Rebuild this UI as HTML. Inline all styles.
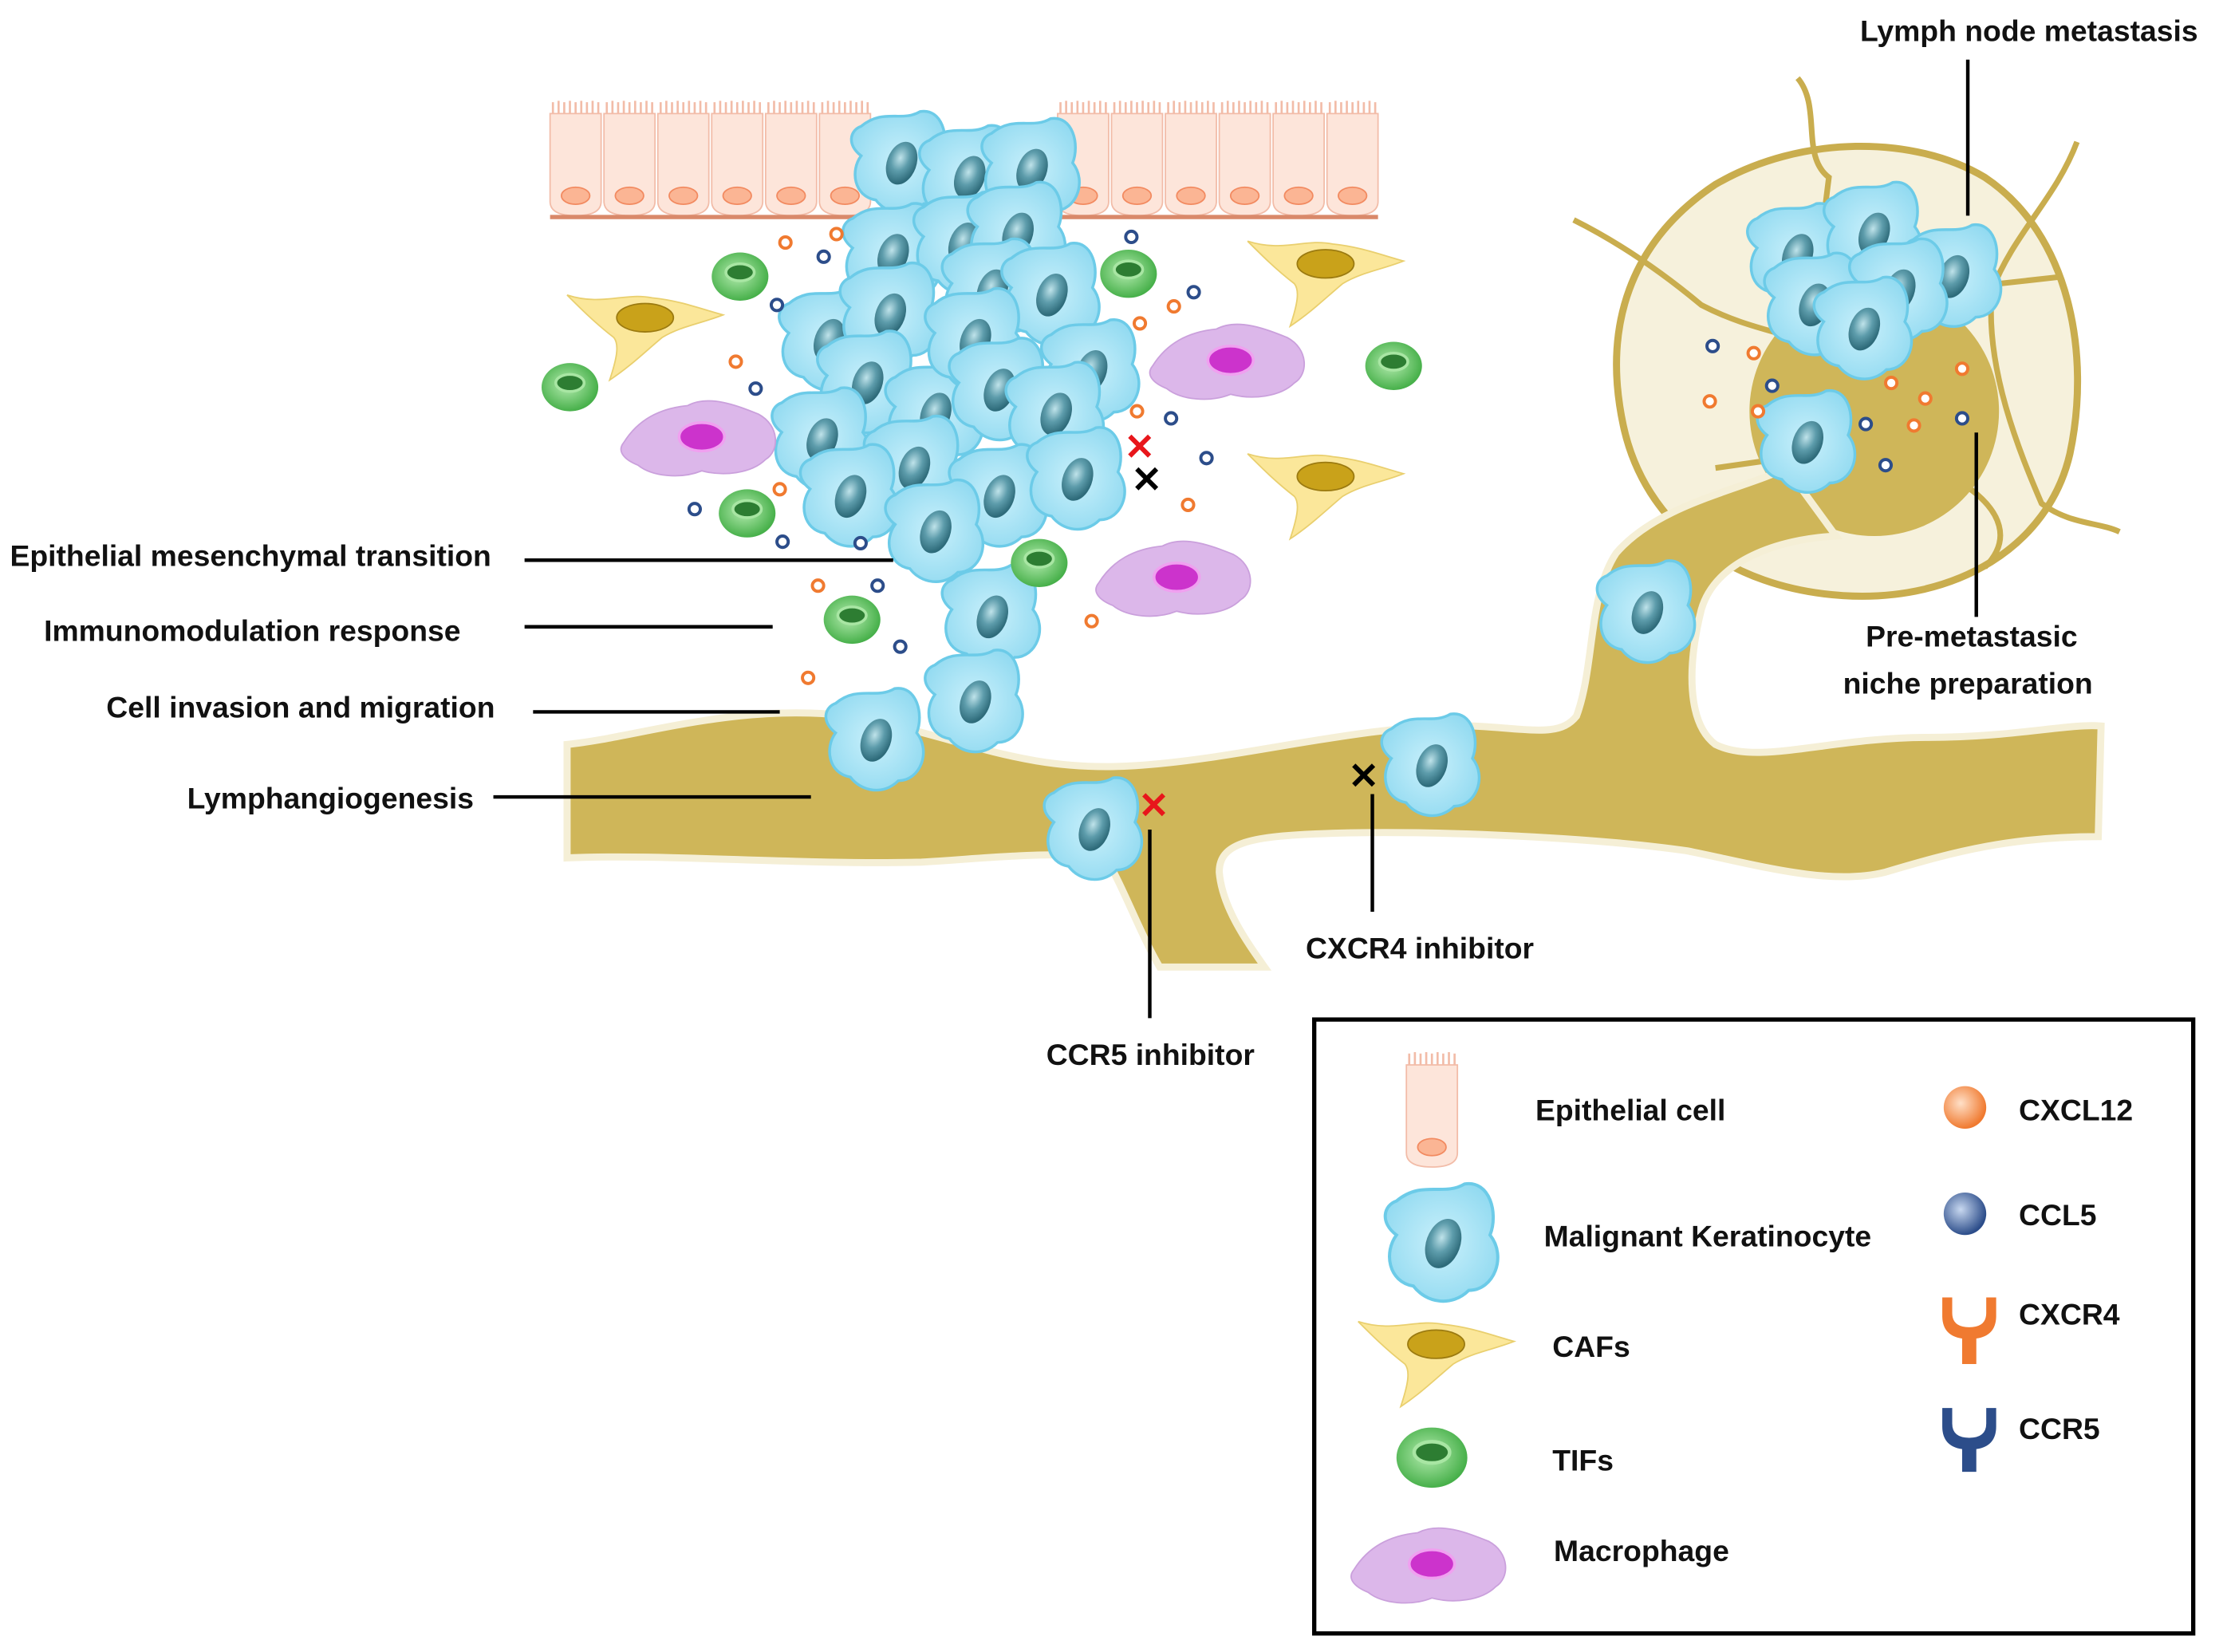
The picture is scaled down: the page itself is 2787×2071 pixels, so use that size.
<!DOCTYPE html>
<html><head><meta charset="utf-8"><style>
html,body{margin:0;padding:0;background:#fff;}
svg{display:block;}
text{font-family:"Liberation Sans",sans-serif;font-weight:bold;fill:#111;}
</style></head><body>
<svg width="2787" height="2071" viewBox="0 0 1568 1165" xmlns="http://www.w3.org/2000/svg">
<defs>
<radialGradient id="nuc" cx="40%" cy="40%" r="60%"><stop offset="0" stop-color="#bfe3ea"/><stop offset="0.5" stop-color="#5d9cab"/><stop offset="1" stop-color="#2e6b7a"/></radialGradient>
<radialGradient id="cellg" cx="50%" cy="50%" r="60%"><stop offset="0" stop-color="#c9f0fb"/><stop offset="1" stop-color="#8fd9f0"/></radialGradient>
<radialGradient id="tifg" cx="45%" cy="45%" r="55%"><stop offset="0" stop-color="#b5ecb0"/><stop offset="1" stop-color="#47b04a"/></radialGradient>
<radialGradient id="orb" cx="40%" cy="40%" r="60%"><stop offset="0" stop-color="#ffe0c8"/><stop offset="1" stop-color="#f07a30"/></radialGradient>
<radialGradient id="bb" cx="40%" cy="40%" r="60%"><stop offset="0" stop-color="#c8d8f0"/><stop offset="1" stop-color="#2c4d8a"/></radialGradient>
<g id="cell0">
<path d="M-22,-20 C-10,-30 0,-22 10,-28 C22,-30 26,-14 22,-4 C30,6 24,22 12,22 C4,30 -8,28 -14,20 C-26,18 -28,4 -22,-4 C-30,-10 -28,-18 -22,-20Z" fill="url(#cellg)" stroke="#6ccbe8" stroke-width="1.5"/>
<ellipse cx="0" cy="0" rx="8" ry="12" fill="url(#nuc)" transform="rotate(20)"/>
</g>
<g id="cell"><use href="#cell0" transform="scale(1.3)"/></g>
<g id="epi">
<path d="M-18,-32 L18,-32 L18,30 Q18,40 0,40 Q-18,40 -18,30Z" fill="#fde5da" stroke="#f2bca8" stroke-width="1"/>
<path d="M-16,-32 l0,-8 M-12,-32 l0,-9 M-8,-32 l0,-8 M-4,-32 l0,-9 M0,-32 l0,-8 M4,-32 l0,-9 M8,-32 l0,-8 M12,-32 l0,-9 M16,-32 l0,-8" stroke="#f2bca8" stroke-width="1.5"/>
<ellipse cx="0" cy="26" rx="10" ry="6" fill="#fbb594" stroke="#f28a60"/>
</g>
<g id="caf">
<path d="M-55,-20 C-30,-12 -15,-22 5,-18 C25,-16 40,-10 55,-6 C40,0 25,2 12,10 C0,20 -10,30 -25,40 C-20,25 -18,15 -22,10 C-35,0 -45,-10 -55,-20Z" fill="#fbe79a" stroke="#e9cf6e" stroke-width="1"/>
<ellipse cx="0" cy="-4" rx="20" ry="10" fill="#c9a21a" stroke="#9b7a10"/>
</g>
<g id="tif"><ellipse cx="0" cy="0" rx="20" ry="17" fill="url(#tifg)"/><ellipse cx="0" cy="-3" rx="10" ry="6" fill="#2d7d32" stroke="#a8e6a3" stroke-width="2"/></g>
<g id="mac">
<path d="M-55,4 C-45,-12 -30,-20 -10,-22 C5,-30 25,-22 40,-16 C55,-8 55,10 45,16 C35,26 15,28 0,24 C-15,30 -35,28 -45,20 C-55,16 -60,10 -55,4Z" fill="#dcb7ea" stroke="#caa0dc"/>
<ellipse cx="0" cy="0" rx="16" ry="10" fill="#cc33cc" stroke="#f0a0f0" stroke-width="2"/>
</g>
<circle id="o" r="4" fill="#fff" stroke="#f07a30" stroke-width="2.2"/>
<circle id="b" r="4" fill="#fff" stroke="#2c4d8a" stroke-width="2.2"/>
</defs>

<!-- epithelium -->
<g>
<use href="#epi" x="406" y="112"/><use href="#epi" x="444" y="112"/><use href="#epi" x="482" y="112"/><use href="#epi" x="520" y="112"/><use href="#epi" x="558" y="112"/><use href="#epi" x="596" y="112"/>
<use href="#epi" x="764" y="112"/><use href="#epi" x="802" y="112"/><use href="#epi" x="840" y="112"/><use href="#epi" x="878" y="112"/><use href="#epi" x="916" y="112"/><use href="#epi" x="954" y="112"/>
<line x1="388" y1="153" x2="972" y2="153" stroke="#d9896a" stroke-width="3"/>
</g>

<!-- lymph node -->
<path d="M1300,420 C1220,415 1160,370 1145,300 C1130,230 1150,170 1210,130 C1270,95 1350,95 1400,125 C1460,165 1475,250 1460,320 C1445,385 1380,425 1300,420Z" fill="#f6f1dc" stroke="#c9ad4e" stroke-width="5"/>
<path d="M1268,55 C1285,75 1270,110 1290,125 L1285,165 M1110,155 C1140,170 1170,190 1200,215 C1225,228 1245,232 1265,238 M1465,100 C1450,140 1420,165 1405,205 C1400,260 1425,320 1440,355 C1460,370 1480,368 1495,375 M1390,345 C1410,360 1420,380 1400,400 M1455,195 L1410,200 M1210,330 L1245,325" stroke="#c9ad4e" stroke-width="4" fill="none"/>
<circle cx="1322" cy="290" r="88" fill="#cfb659"/>

<!-- vessel -->
<path d="M400,525 C450,520 520,495 600,505 C680,520 720,545 800,540 C880,535 960,510 1040,512 C1080,514 1100,520 1112,505 C1125,470 1120,420 1140,390 C1170,355 1230,345 1260,330 L1295,378 C1255,380 1210,395 1200,430 C1190,470 1190,510 1210,525 C1240,540 1290,520 1360,520 C1420,520 1460,510 1482,512 L1480,590 C1420,590 1380,600 1330,615 C1290,625 1240,610 1190,600 C1120,590 1000,585 930,588 C880,590 860,595 860,615 C862,640 880,665 892,682 L818,682 C805,660 792,625 780,605 C740,600 700,605 650,608 C560,610 470,602 400,605Z" fill="#cfb659" stroke="#f5efd6" stroke-width="5"/>

<!-- tumor cluster -->
<g>
<use href="#cell" x="636" y="115"/><use href="#cell" x="684" y="125"/><use href="#cell" x="728" y="120"/>
<use href="#cell" x="630" y="180"/><use href="#cell" x="680" y="172"/><use href="#cell" x="718" y="165"/>
<use href="#cell" x="585" y="240"/><use href="#cell" x="628" y="222"/><use href="#cell" x="700" y="205"/><use href="#cell" x="742" y="208"/>
<use href="#cell" x="612" y="270"/><use href="#cell" x="660" y="292"/><use href="#cell" x="688" y="240"/><use href="#cell" x="705" y="275"/><use href="#cell" x="770" y="262"/><use href="#cell" x="745" y="292"/>
<use href="#cell" x="580" y="310"/><use href="#cell" x="645" y="330"/><use href="#cell" x="705" y="350"/><use href="#cell" x="760" y="338"/>
<use href="#cell" x="600" y="350"/><use href="#cell" x="660" y="375"/>
<use href="#cell" x="700" y="435"/><use href="#cell" x="688" y="495"/>
<use href="#cell" x="618" y="522"/>
<use href="#cell" x="772" y="585"/><use href="#cell" x="1010" y="540"/><use href="#cell" x="1162" y="432"/>
<use href="#cell" x="1275" y="312"/>
<use href="#cell" x="1268" y="180"/><use href="#cell" x="1322" y="165"/><use href="#cell" x="1378" y="195"/><use href="#cell" x="1280" y="215"/><use href="#cell" x="1340" y="205"/><use href="#cell" x="1315" y="232"/>
</g>

<!-- other cells -->
<use href="#caf" x="455" y="228"/><use href="#caf" x="935" y="190"/><use href="#caf" x="935" y="340"/>
<use href="#tif" x="522" y="195"/><use href="#tif" x="402" y="273"/><use href="#tif" x="796" y="193"/><use href="#tif" x="983" y="258"/><use href="#tif" x="527" y="362"/><use href="#tif" x="733" y="397"/><use href="#tif" x="601" y="437"/>
<use href="#mac" x="495" y="308"/><use href="#mac" x="868" y="254"/><use href="#mac" x="830" y="407"/>

<!-- chemokines -->
<g>
<use href="#o" x="554" y="171"/><use href="#o" x="590" y="165"/><use href="#b" x="581" y="181"/><use href="#b" x="548" y="215"/><use href="#o" x="519" y="255"/><use href="#b" x="533" y="274"/>
<use href="#b" x="798" y="167"/><use href="#b" x="842" y="206"/><use href="#o" x="828" y="216"/><use href="#o" x="804" y="228"/><use href="#b" x="826" y="295"/><use href="#o" x="802" y="290"/><use href="#b" x="851" y="323"/><use href="#o" x="838" y="356"/>
<use href="#b" x="490" y="359"/><use href="#o" x="550" y="345"/><use href="#b" x="552" y="382"/><use href="#b" x="607" y="383"/><use href="#o" x="577" y="413"/><use href="#b" x="619" y="413"/><use href="#o" x="570" y="478"/><use href="#b" x="635" y="456"/><use href="#o" x="770" y="438"/>
<use href="#b" x="1208" y="244"/><use href="#o" x="1237" y="249"/><use href="#b" x="1250" y="272"/><use href="#o" x="1206" y="283"/><use href="#o" x="1240" y="290"/><use href="#o" x="1334" y="270"/><use href="#o" x="1358" y="281"/><use href="#o" x="1384" y="260"/><use href="#b" x="1316" y="299"/><use href="#o" x="1350" y="300"/><use href="#b" x="1384" y="295"/><use href="#b" x="1330" y="328"/>
</g>

<!-- X marks -->
<text x="793" y="324" font-size="26" style="fill:#e8161b">✕</text>
<text x="798" y="347" font-size="26" style="fill:#000">✕</text>
<text x="803" y="577" font-size="26" style="fill:#e8161b">✕</text>
<text x="951" y="556" font-size="26" style="fill:#000">✕</text>

<!-- labels & lines -->
<g stroke="#000" stroke-width="2.5">
<line x1="370" y1="395" x2="630" y2="395"/>
<line x1="370" y1="442" x2="545" y2="442"/>
<line x1="376" y1="502" x2="550" y2="502"/>
<line x1="348" y1="562" x2="572" y2="562"/>
<line x1="811" y1="585" x2="811" y2="718"/>
<line x1="968" y1="560" x2="968" y2="643"/>
<line x1="1388" y1="42" x2="1388" y2="152"/>
<line x1="1394" y1="305" x2="1394" y2="435"/>
</g>
<g font-size="21">
<text x="7" y="399">Epithelial mesenchymal transition</text>
<text x="31" y="452">Immunomodulation response</text>
<text x="75" y="506">Cell invasion and migration</text>
<text x="132" y="570">Lymphangiogenesis</text>
<text x="738" y="751">CCR5 inhibitor</text>
<text x="921" y="676">CXCR4 inhibitor</text>
<text x="1312" y="29">Lymph node metastasis</text>
<text x="1316" y="456">Pre-metastasic</text>
<text x="1300" y="489">niche preparation</text>
</g>

<!-- legend -->
<rect x="927" y="719" width="620" height="433" fill="#fff" stroke="#000" stroke-width="3"/>
<use href="#epi" x="1010" y="783"/>
<use href="#cell0" transform="translate(1018,877) scale(1.5)"/>
<use href="#caf" x="1013" y="952"/>
<use href="#tif" transform="translate(1010,1028) scale(1.25)"/>
<use href="#mac" x="1010" y="1103"/>
<circle cx="1386" cy="781" r="15" fill="url(#orb)"/>
<circle cx="1386" cy="856" r="15" fill="url(#bb)"/>
<path d="M1370,915 L1370,928 Q1370,942 1384,944 L1384,962 L1394,962 L1394,944 Q1408,942 1408,928 L1408,915 L1401,915 L1401,926 Q1401,936 1389,936 Q1377,936 1377,926 L1377,915Z" fill="#f07a30"/>
<path d="M1370,993 L1370,1006 Q1370,1020 1384,1022 L1384,1038 L1394,1038 L1394,1022 Q1408,1020 1408,1006 L1408,993 L1401,993 L1401,1004 Q1401,1014 1389,1014 Q1377,1014 1377,1004 L1377,993Z" fill="#2c4d8a"/>
<g font-size="21">
<text x="1083" y="790">Epithelial cell</text>
<text x="1089" y="879">Malignant Keratinocyte</text>
<text x="1095" y="957">CAFs</text>
<text x="1095" y="1037">TIFs</text>
<text x="1096" y="1101">Macrophage</text>
<text x="1424" y="790">CXCL12</text>
<text x="1424" y="864">CCL5</text>
<text x="1424" y="934">CXCR4</text>
<text x="1424" y="1015">CCR5</text>
</g>
</svg>
</body></html>
